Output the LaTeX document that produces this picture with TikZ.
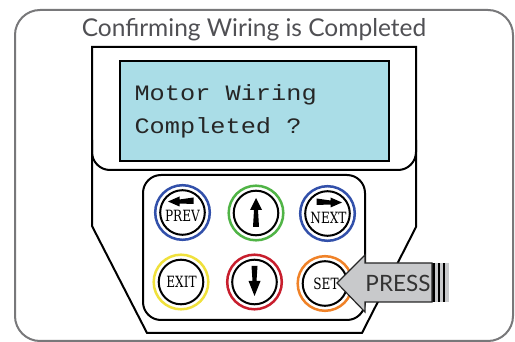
\documentclass[tikz,border=0pt]{standalone}
\usepackage{fontspec}
\setmainfont{Lato}
\newfontfamily\lcdfont{Liberation Mono}
\newfontfamily\keyfont{DejaVu Serif}
\usetikzlibrary{calc}
\definecolor{lcdblue}{RGB}{170,221,231}
\definecolor{framegray}{RGB}{120,120,122}
\definecolor{titlegray}{RGB}{80,80,84}
\definecolor{pressgray}{RGB}{200,201,203}
\definecolor{keyblue}{RGB}{50,80,170}
\definecolor{keygreen}{RGB}{80,180,70}
\definecolor{keyyellow}{RGB}{240,225,60}
\definecolor{keyred}{RGB}{200,30,45}
\definecolor{keyorange}{RGB}{240,130,40}
\def\keyring[#1](#2){\draw[line width=2.5, color=#1] (#2) circle (27.3); \draw[line width=2, fill=white] (#2) circle (22.3);}
\def\keylabel(#1)#2{\node[font=\keyfont\fontsize{15.5}{16}\selectfont] at (#1) {\scalebox{0.78}[1]{#2}};}

\begin{document}
\begin{tikzpicture}[x=1pt, y=-1pt]
			%%%%% START %%%%%
			\useasboundingbox (0, 0) rectangle (515, 342);
			
			\draw[line width=2, color=framegray, rounded corners=25pt] (15, 10) rectangle (513, 341);
			\node[anchor=base, color=titlegray, font=\fontsize{24.5}{26}\selectfont] (title) at (254, 36.5) {Confirming Wiring is Completed};
			
			% housing
			\draw[line width=2, fill=white] (92, 47) -- (416, 47) -- (416, 227) -- (362, 333) -- (147, 333) -- (92, 226) -- cycle;
			\draw[line width=2, rounded corners=18pt] (92, 140) -- (92, 170) -- (416, 170) -- (416, 140);
			
			% screen
			\draw[line width=2.5, fill=lcdblue] (120, 61) rectangle (389, 161);
			\node[anchor=base west, color=black!85, font=\lcdfont\fontsize{22}{24}\selectfont] (line1) at (131, 101) {\scalebox{1.15}[1]{Motor Wiring}};
			\node[anchor=base west, color=black!85, font=\lcdfont\fontsize{22}{24}\selectfont] (line2) at (131, 134) {\scalebox{1.15}[1]{Completed ?}};
			
			% keypad
			\draw[line width=2, rounded corners=18pt] (143, 175) rectangle (365, 320);
			
			\keyring[keyblue](182.5, 212.5)
			\keyring[keygreen](256, 213)
			\keyring[keyblue](327.5, 213.5)
			\keyring[keyyellow](181, 282)
			\keyring[keyred](254.5, 282)
			\keyring[keyorange](325, 283.5)
			
			\begin{scope}[shift={(182.5, 212.5)}]
				\fill (-14.5, -11) -- (-3, -16) -- (-3, -13) -- (11, -15) -- (11, -8.5) -- (-3, -9) -- (-3, -6) -- cycle;
			\end{scope}
			\keylabel(182.5, 216){PREV}
			
			\begin{scope}[shift={(256, 213)}]
				\fill (0, -15) -- (6, -3) -- (2, -3) -- (3, 14) -- (-3, 14) -- (-2, -3) -- (-6, -3) -- cycle;
			\end{scope}
			
			\begin{scope}[shift={(327.5, 213.5)}]
				\fill (14.5, -11) -- (3, -16) -- (3, -13) -- (-11, -15) -- (-11, -8.5) -- (3, -9) -- (3, -6) -- cycle;
			\end{scope}
			\keylabel(328.5, 218){NEXT}
			
			\keylabel(181.5, 282){EXIT}
			
			\begin{scope}[shift={(254.5, 282)}]
				\fill (0, 14) -- (6, -1) -- (2, -1) -- (3, -16) -- (-3, -16) -- (-2, -1) -- (-6, -1) -- cycle;
			\end{scope}
			
			\keylabel(326, 283.5){SET}
			
			% press arrow
			\fill[pressgray] (432, 263) rectangle (448.5, 302);
			\fill (432, 263) rectangle (435, 302);
			\fill (438, 263) rectangle (440, 302);
			\fill (443, 263) rectangle (445, 302);
			\draw[line width=1.2, color=black!85, fill=pressgray] (337, 283) -- (365, 255) -- (365, 263) -- (432, 263) -- (432, 302) -- (365, 302) -- (365, 312) -- cycle;
			\node[anchor=base, color=black!80, font=\fontsize{22.5}{24}\selectfont] (press) at (398, 292) {PRESS};
			
			%%%%% END %%%%%
\end{tikzpicture}
\end{document}
